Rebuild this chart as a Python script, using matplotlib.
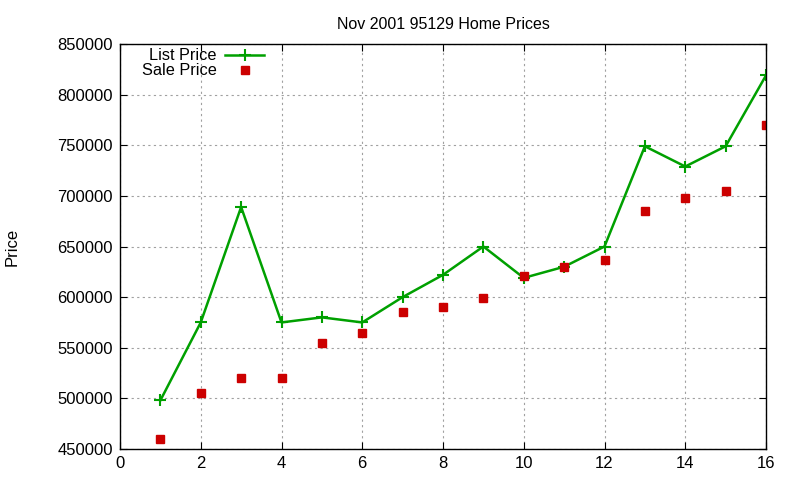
import matplotlib
matplotlib.use("Agg")
import matplotlib.pyplot as plt

plt.rcParams['font.family'] = ['Liberation Sans', 'DejaVu Sans']

months = list(range(1, 17))
list_price = [498000, 575000, 689000, 575000, 580000, 575000, 600000, 622000,
              650000, 619000, 630000, 650000, 749000, 729000, 749000, 819000]
sale_price = [460000, 505000, 520000, 520000, 555000, 565000, 585000, 590000,
              599000, 621000, 630000, 637000, 685000, 698000, 705000, 770000]

fig = plt.figure(figsize=(8, 4.8), dpi=100)
ax = fig.add_axes([0.15, 0.0646, 0.8075, 0.8437])

ax.plot(months, list_price, color='#00a000', lw=1.8, marker='+', ms=8, mew=1.5,
        label='List Price')
ax.plot(months, sale_price, ls='none', color='#cc0000', marker='s', ms=6,
        label='Sale Price')

ax.set_xlim(0, 16)
ax.set_ylim(450000, 850000)
ax.set_xticks(range(0, 17, 2))
ax.set_yticks(range(450000, 850001, 50000))
ax.tick_params(direction='in', top=True, right=True, labelsize=12, length=5, pad=5)
ax.grid(True, color='#a0a0a0', ls=(0, (2, 3)), lw=0.8)
ax.set_axisbelow(True)
for s in ax.spines.values():
    s.set_linewidth(1.0)

ax.set_title('Nov 2001 95129 Home Prices', fontsize=11.5, pad=11)
ax.set_ylabel('Price', fontsize=12, labelpad=27)

ax.legend(loc='upper left', frameon=False, markerfirst=False, fontsize=11.7,
          handlelength=2.4, handletextpad=0.5, borderaxespad=0.0,
          labelspacing=0.0, bbox_to_anchor=(0.024, 1.005))

fig.savefig('out.png', dpi=100)
